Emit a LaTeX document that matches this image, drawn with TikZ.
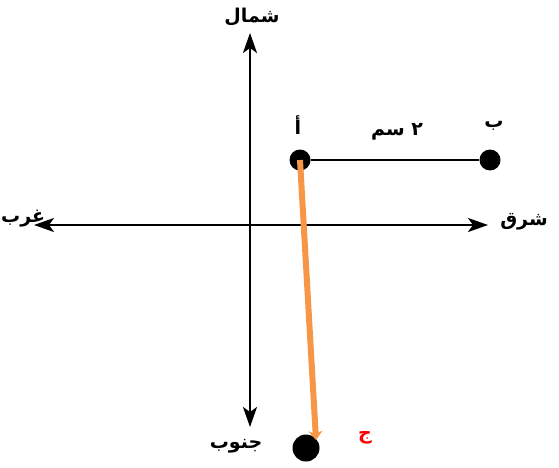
\documentclass[tikz,border=0pt]{standalone}
\usepackage{fontspec}
\newfontfamily\arabicfont[Script=Arabic]{DejaVu Sans}
\TeXXeTstate=1
\usetikzlibrary{arrows.meta}
\definecolor{orangeline}{HTML}{F79646}
\tikzset{
  axis/.style={line width=2.4pt, -{Stealth[length=20pt,width=14pt,inset=5pt]}},
  lbl/.style={font=\arabicfont\bfseries\fontsize{19}{22}\selectfont, inner sep=0pt},
  dot/.style={circle, fill=black, inner sep=0pt}
}
\begin{document}
\begin{tikzpicture}[x=1pt,y=-1pt]
\useasboundingbox (0,0) rectangle (559,468);
% axes
\coordinate (c) at (250,225);
\coordinate (ntip) at (250,33);
\coordinate (stip) at (250,427);
\coordinate (wtip) at (34,225);
\coordinate (etip) at (488,225);
\draw[axis] (c) -- (ntip);
\draw[axis] (c) -- (stip);
\draw[axis] (c) -- (wtip);
\draw[axis] (c) -- (etip);
\node[lbl] (north) at (252,17) {\beginR شمال\endR};
\node[lbl] (south) at (236,446) {\beginR جنوب\endR};
\node[lbl, anchor=west] (west) at (1,219) {\beginR غرب\endR};
\node[lbl] (east) at (524,222) {\beginR شرق\endR};
% points
\node[dot, minimum size=21pt] (A) at (300,160) {};
\node[dot, minimum size=21pt] (B) at (490,160) {};
\node[dot, minimum size=27pt] (C) at (306,448) {};
\draw[line width=1.6pt] (A) -- (B);
\node[lbl] (la) at (298,125) {\beginR أ\endR};
\node[lbl] (lb) at (494,126) {\beginR ب\endR};
\node[lbl] (len) at (397,132) {\beginR ٢ سم\endR};
\node[lbl, text=red] (lc) at (365,438) {\beginR ج\endR};
% orange path
\coordinate (otip) at (316,440);
\draw[orangeline, line width=6pt, -{Stealth[length=9pt,width=14pt]}] (A.center) -- (otip);
\end{tikzpicture}
\end{document}
